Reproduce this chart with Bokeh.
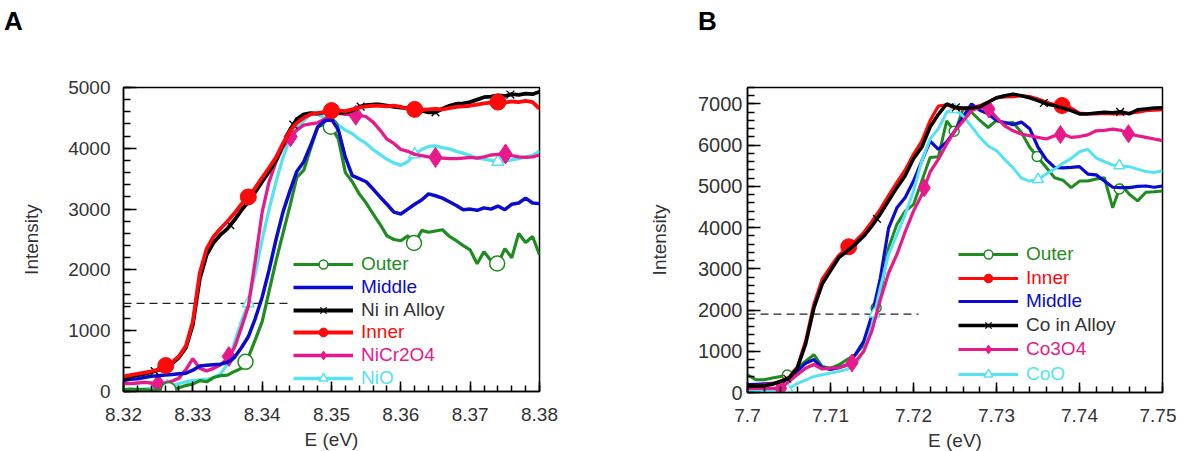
import numpy as np
from bokeh.plotting import figure
from bokeh.models import (SingleIntervalTicker, NumeralTickFormatter, Legend,
                          LegendItem, Range1d, Div)
from bokeh.layouts import row, column
from bokeh.embed import file_html
from bokeh.resources import INLINE

FONT = "Liberation Sans"
TXT = "#333333"

GREEN = "#1e8c1e"
BLUE = "#0a0ad2"
BLACK = "#000000"
RED = "#ff0a0a"
PINK = "#e8198b"
CYAN = "#55e3f2"

# ---------------- Panel A : Ni ----------------
energy_a = [8.320, 8.321, 8.322, 8.323, 8.324, 8.325, 8.326, 8.327, 8.328, 8.329,
            8.330, 8.331, 8.332, 8.333, 8.334, 8.335, 8.336, 8.337, 8.338, 8.339,
            8.340, 8.341, 8.342, 8.343, 8.344, 8.345, 8.346, 8.347, 8.348, 8.349,
            8.350, 8.351, 8.352, 8.353, 8.354, 8.355, 8.356, 8.357, 8.358, 8.359,
            8.360, 8.361, 8.362, 8.363, 8.364, 8.365, 8.366, 8.367, 8.368, 8.369,
            8.370, 8.371, 8.372, 8.373, 8.374, 8.375, 8.376, 8.377, 8.378, 8.379,
            8.380]
outer_a = [30, 40, 30, 30, 20, 20, 10, 40, 60, 100,
           120, 180, 160, 230, 260, 270, 330, 380, 560, 850,
           1150, 1650, 2150, 2600, 3050, 3520, 3640, 4000, 4350, 4400,
           4350, 4150, 3600, 3450, 3250, 3100, 2920, 2750, 2560, 2500,
           2480, 2560, 2430, 2650, 2620, 2640, 2660, 2550, 2480, 2400,
           2330, 2100, 2300, 2150, 2100, 2350, 2200, 2600, 2450, 2550,
           2250]
middle_a = [180, 200, 210, 230, 250, 260, 270, 280, 290, 300,
            350, 420, 430, 440, 450, 480, 560, 720, 900, 1200,
            1550, 2000, 2500, 2950, 3300, 3620, 3780, 4050, 4350, 4450,
            4480, 4300, 3850, 3550, 3500, 3450, 3330, 3200, 3080, 2950,
            2920, 3000, 3080, 3150, 3250, 3220, 3180, 3120, 3060, 2990,
            3000, 2980, 3020, 3000, 3050, 2990, 3080, 3100, 3180, 3100,
            3090]
ni_alloy_a = [230, 250, 270, 290, 320, 350, 400, 460, 560, 720,
              1100, 1850, 2250, 2450, 2580, 2680, 2820, 2980, 3120, 3280,
              3450, 3620, 3800, 4050, 4300, 4480, 4560, 4580, 4570, 4590,
              4600, 4580, 4590, 4620, 4680, 4710, 4720, 4720, 4700, 4680,
              4670, 4660, 4650, 4620, 4590, 4590, 4650, 4700, 4730, 4740,
              4760, 4800, 4840, 4850, 4870, 4860, 4890, 4880, 4900, 4890,
              4930]
inner_a = [250, 270, 290, 310, 330, 360, 420, 480, 580, 750,
           1150, 1950, 2350, 2550, 2680, 2800, 2930, 3080, 3200, 3350,
           3520, 3680, 3850, 4080, 4280, 4420, 4500, 4560, 4580, 4600,
           4620, 4620, 4610, 4640, 4670, 4690, 4700, 4700, 4690, 4700,
           4680, 4650, 4640, 4630, 4640, 4650, 4640, 4660, 4680, 4690,
           4700, 4720, 4740, 4750, 4760, 4750, 4770, 4760, 4780, 4760,
           4650]
nicr2o4_a = [130, 130, 140, 150, 140, 120, 140, 170, 220, 360,
             540, 380, 340, 380, 440, 540, 720, 1050, 1400, 2150,
             2950, 3450, 3780, 4020, 4180, 4300, 4380, 4400, 4420, 4480,
             4560, 4580, 4560, 4550, 4540, 4520, 4430, 4300, 4150, 4080,
             3980, 3950, 3900, 3880, 3860, 3850, 3840, 3830, 3830, 3840,
             3850, 3840, 3860, 3890, 3900, 3910, 3880, 3860, 3850, 3860,
             3890]
nio_a = [30, 30, 40, 40, 50, 60, 80, 100, 130, 160,
         180, 190, 200, 230, 290, 450, 800, 1150, 1450, 1950,
         2500, 3000, 3450, 3850, 4150, 4330, 4450, 4570, 4560, 4500,
         4450, 4380, 4300, 4240, 4150, 4080, 3980, 3900, 3820, 3760,
         3720, 3780, 3900, 3980, 4030, 4040, 4010, 3990, 3950, 3920,
         3880, 3840, 3820, 3800, 3780, 3790, 3810, 3830, 3860, 3880,
         3960]
# energies at which the symbols sit on each curve
outer_a_marks = [8.3265, 8.3376, 8.3499, 8.3619, 8.3739]
inner_a_marks = [8.3261, 8.338, 8.350, 8.362, 8.374]
ni_alloy_a_marks = [8.3245, 8.3354, 8.3445, 8.3542, 8.365, 8.3758]
nicr2o4_a_marks = [8.325, 8.3352, 8.3441, 8.3535, 8.365, 8.3751]
nio_a_marks = [8.3263, 8.338, 8.350, 8.362, 8.374]
edge_level_a = 1450
edge_end_a = 8.3438

# ---------------- Panel B : Co ----------------
energy_b = [7.700, 7.701, 7.702, 7.703, 7.704, 7.705, 7.706, 7.707, 7.708, 7.709,
            7.710, 7.711, 7.712, 7.713, 7.714, 7.715, 7.716, 7.717, 7.718, 7.719,
            7.720, 7.721, 7.722, 7.723, 7.724, 7.725, 7.726, 7.727, 7.728, 7.729,
            7.730, 7.731, 7.732, 7.733, 7.734, 7.735, 7.736, 7.737, 7.738, 7.739,
            7.740, 7.741, 7.742, 7.743, 7.744, 7.745, 7.746, 7.747, 7.748, 7.749,
            7.750]
outer_b = [430, 310, 310, 350, 390, 430, 590, 760, 920, 630,
           590, 670, 800, 920, 1160, 1730, 2380, 3510, 4080, 4400,
           4560, 5130, 5700, 5720, 6590, 6310, 6900, 6800, 6600, 6430,
           6600, 6530, 6550, 6310, 5950, 5700, 5460, 5210, 5150, 4970,
           5130, 5130, 5180, 5210, 4480, 5050, 4810, 4650, 4860, 4870,
           4890]
inner_b = [170, 170, 180, 210, 280, 370, 620, 1250, 2150, 2750,
           3050, 3330, 3500, 3680, 3880, 4150, 4450, 4780, 5100, 5400,
           5780, 6100, 6600, 6950, 6980, 6900, 6880, 6900, 6960, 7050,
           7150, 7170, 7180, 7200, 7180, 7120, 7050, 6980, 6960, 6900,
           6780, 6760, 6760, 6770, 6760, 6760, 6780, 6800, 6840, 6850,
           6860]
middle_b = [190, 200, 210, 220, 230, 350, 510, 710, 800, 600,
            560, 600, 670, 920, 1240, 1880, 2770, 3990, 4480, 4730,
            5130, 5620, 6100, 5900, 6080, 6350, 6700, 7000, 6850, 6760,
            6600, 6550, 6500, 6560, 6400, 5950, 5650, 5460, 5450, 5460,
            5480, 5300, 5280, 5130, 4980, 4970, 4970, 5000, 5010, 4980,
            5010]
co_alloy_b = [150, 155, 160, 200, 270, 350, 590, 1170, 2050, 2630,
              2950, 3270, 3430, 3600, 3790, 4040, 4330, 4650, 4970, 5260,
              5670, 5950, 6440, 6750, 7000, 6920, 6900, 6900, 6930, 7040,
              7150, 7200, 7240, 7200, 7150, 7080, 7000, 6960, 6900, 6840,
              6760, 6760, 6780, 6800, 6790, 6810, 6760, 6860, 6880, 6900,
              6910]
co3o4_b = [100, 100, 100, 100, 100, 270, 430, 590, 680, 570,
           590, 600, 670, 750, 1000, 1500, 2250, 2900, 3350, 3900,
           4400, 4800, 5350, 5660, 6030, 6350, 6590, 6840, 6920, 6900,
           6670, 6470, 6350, 6270, 6230, 6190, 6150, 6230, 6270, 6190,
           6210, 6250, 6350, 6360, 6390, 6360, 6270, 6230, 6190, 6150,
           6110]
coo_b = [40, 40, 30, 30, 40, 100, 220, 300, 390, 430,
         470, 510, 560, 670, 990, 1640, 2540, 3350, 3830, 4320,
         4890, 5620, 6150, 6400, 6800, 6880, 6700, 6450, 6190, 5980,
         5870, 5650, 5450, 5200, 5130, 5170, 5300, 5420, 5560, 5680,
         5840, 5900, 5690, 5600, 5520, 5500, 5480, 5420, 5360, 5340,
         5380]
outer_b_marks = [7.7048, 7.7155, 7.7249, 7.7349, 7.7448]
inner_b_marks = [7.7122, 7.7379]
co_alloy_b_marks = [7.7048, 7.7156, 7.7251, 7.7357, 7.7449]
co3o4_b_marks = [7.704, 7.7126, 7.7213, 7.7291, 7.7377, 7.7459]
coo_b_marks = [7.7048, 7.7153, 7.7249, 7.735, 7.7448]
edge_level_b = 1900
edge_end_b = 7.7206


def build_panel(energy, series, draw_order, x_lo, x_hi, y_hi,
                edge_level, edge_end, border_l, border_r, border_t,
                frame_w, frame_h, legend_x, legend_ys, x_format, ytick_size,
                ytick_standoff, ylabel_standoff):
    p = figure(frame_width=frame_w, frame_height=frame_h,
               x_range=Range1d(x_lo, x_hi), y_range=Range1d(0, y_hi),
               output_backend="svg", toolbar_location=None,
               min_border_left=border_l, min_border_right=border_r,
               min_border_top=border_t, min_border_bottom=60)
    p.xgrid.visible = False
    p.ygrid.visible = False
    p.outline_line_color = "black"
    p.outline_line_width = 1.5
    p.outline_line_alpha = 1.0

    xa = p.xaxis[0]
    ya = p.yaxis[0]
    xa.ticker = SingleIntervalTicker(interval=0.01, num_minor_ticks=5)
    ya.ticker = SingleIntervalTicker(interval=1000, num_minor_ticks=5)
    xa.formatter = NumeralTickFormatter(format=x_format)
    for ax in (xa, ya):
        ax.axis_line_color = "black"
        ax.axis_line_width = 1.5
        ax.major_tick_out = 0
        ax.minor_tick_out = 0
        ax.major_tick_line_width = 1.5
        ax.minor_tick_line_width = 1.5
        ax.major_label_text_font = FONT
        ax.major_label_text_color = TXT
        ax.axis_label_text_font = FONT
        ax.axis_label_text_font_size = "19px"
        ax.axis_label_text_font_style = "normal"
        ax.axis_label_text_color = TXT
    xa.major_tick_in = 10
    xa.minor_tick_in = 6
    ya.major_tick_in = 13
    ya.minor_tick_in = 7
    xa.major_label_text_font_size = "19px"
    xa.major_label_standoff = 16
    xa.axis_label = "E (eV)"
    xa.axis_label_standoff = 5
    ya.major_label_text_font_size = ytick_size
    ya.major_label_standoff = ytick_standoff
    ya.axis_label = "Intensity"
    ya.axis_label_standoff = ylabel_standoff

    # dashed reference level (edge position)
    p.line([x_lo, edge_end], [edge_level, edge_level], line_color="#222222",
           line_width=1.3, line_dash="8 5")

    renderers = {}
    for key in draw_order:
        name, vals, color, lw, mk, mk_size, mk_fill, mk_lw, mk_pos = series[key]
        lr = p.line(energy, vals, line_color=color, line_width=lw)
        rs = [lr]
        if mk is not None:
            my = np.interp(mk_pos, energy, vals)
            sr = p.scatter(mk_pos, my, marker=mk, size=mk_size,
                           line_color=color, fill_color=mk_fill,
                           line_width=mk_lw)
            rs.append(sr)
        renderers[key] = rs

    for key, ly in zip(series.keys(), legend_ys):
        name, color = series[key][0], series[key][2]
        tcol = "#333333" if color == BLACK else color
        leg = Legend(items=[LegendItem(label=name, renderers=renderers[key])],
                     location=(legend_x, ly), padding=0, margin=0, spacing=0,
                     glyph_width=60, glyph_height=22, label_height=22,
                     label_standoff=8, border_line_alpha=0,
                     background_fill_alpha=0, label_text_font=FONT,
                     label_text_font_size="19px", label_text_color=tcol)
        p.add_layout(leg)
    return p


series_a = {
    "outer": ("Outer", outer_a, GREEN, 3.2, "circle", 15, "white", 1.5, outer_a_marks),
    "middle": ("Middle", middle_a, BLUE, 3.5, None, 0, None, 0, None),
    "alloy": ("Ni in Alloy", ni_alloy_a, BLACK, 3.8, "x", 11, None, 1.3, ni_alloy_a_marks),
    "inner": ("Inner", inner_a, RED, 3.8, "circle", 16, RED, 1.0, inner_a_marks),
    "nicr": ("NiCr2O4", nicr2o4_a, PINK, 3.3, "diamond", 20, PINK, 1.0, nicr2o4_a_marks),
    "nio": ("NiO", nio_a, CYAN, 3.3, "triangle", 12, "white", 1.5, nio_a_marks),
}
pa = build_panel(energy_a, series_a,
                 ["nio", "nicr", "outer", "middle", "alloy", "inner"],
                 8.32, 8.38, 5000, edge_level_a, edge_end_a,
                 123, 81, 57, 416, 304, 170,
                 [116.0, 93.2, 70.4, 47.6, 24.8, 2.0],
                 "0.00", "19px", 13, 23)

series_b = {
    "outer": ("Outer", outer_b, GREEN, 3.0, "circle", 10, "white", 1.5, outer_b_marks),
    "inner": ("Inner", inner_b, RED, 3.2, "circle", 16, RED, 1.0, inner_b_marks),
    "middle": ("Middle", middle_b, BLUE, 3.2, None, 0, None, 0, None),
    "alloy": ("Co in Alloy", co_alloy_b, BLACK, 3.5, "x", 11, None, 1.3, co_alloy_b_marks),
    "co3o4": ("Co3O4", co3o4_b, PINK, 3.2, "diamond", 18, PINK, 1.0, co3o4_b_marks),
    "coo": ("CoO", coo_b, CYAN, 3.0, "triangle", 11, "white", 1.5, coo_b_marks),
}
pb = build_panel(energy_b, series_b,
                 ["outer", "middle", "coo", "co3o4", "inner", "alloy"],
                 7.70, 7.75, 7400, edge_level_b, edge_end_b,
                 127, 14, 56, 415, 305, 211,
                 [126.7, 103.3, 80.0, 55.7, 31.7, 7.3],
                 "0.0[0]", "20px", 5, 25)

LETTER_STYLE = {"font-family": FONT, "font-size": "26px", "font-weight": "bold",
                "line-height": "26px", "color": "black", "padding-top": "8px"}
div_a = Div(text="A", width=620, height=30, margin=(0, 0, 0, 0),
            styles=dict(LETTER_STYLE, **{"padding-left": "4px"}))
div_b = Div(text="B", width=556, height=30, margin=(0, 0, 0, 0),
            styles=dict(LETTER_STYLE, **{"padding-left": "78px"}))

layout = column(row(div_a, div_b), row(pa, pb))
open("out.html", "w").write(file_html(layout, INLINE))
